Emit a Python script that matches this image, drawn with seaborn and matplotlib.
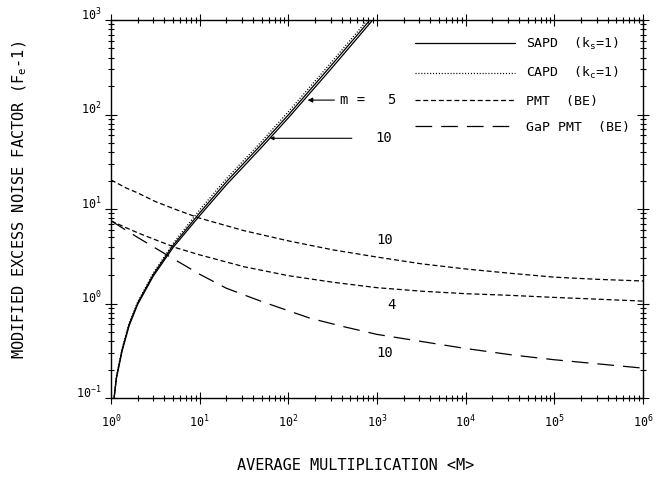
import matplotlib
matplotlib.use("Agg")
import numpy as np
import pandas as pd
import seaborn as sns
import matplotlib.pyplot as plt
from matplotlib.lines import Line2D

# ---------------- data ----------------
M_apd = [1.07, 1.15, 1.33, 1.6, 2.0, 3.0, 5.0, 10, 20, 50, 100, 300, 1000]
F_sapd_m5 = [0.09, 0.16, 0.31, 0.58, 0.98, 1.95, 3.9, 8.5, 18, 45, 92, 300, 1130]
F_sapd_m10 = [0.09, 0.165, 0.32, 0.60, 1.01, 2.03, 4.1, 9.1, 19.4, 48.5, 99, 325, 1220]
F_capd = [0.09, 0.17, 0.33, 0.62, 1.04, 2.1, 4.3, 9.8, 20.9, 52, 107, 350, 1310]

M_pmt = [1, 1.5, 2, 3.16, 5.5, 10, 31.6, 100, 316, 1000, 3162, 1e4, 3.16e4, 1e5, 3.16e5, 1e6]
F_pmt_m10 = [20.3, 16.6, 14.8, 12.0, 9.8, 8.0, 5.9, 4.6, 3.7, 3.1, 2.63, 2.32, 2.09, 1.9, 1.8, 1.73]
F_pmt_m4 = [7.5, 6.3, 5.6, 4.73, 3.87, 3.27, 2.45, 1.97, 1.68, 1.47, 1.35, 1.27, 1.22, 1.16, 1.11, 1.06]

M_gap = [1, 2, 4.6, 10, 20, 50, 175, 400, 1000, 1e4, 3.4e4, 1e5, 1e6]
F_gap_m10 = [7.5, 5.0, 3.13, 2.04, 1.45, 1.05, 0.70, 0.575, 0.471, 0.334, 0.285, 0.254, 0.207]

legend_labels = ["SAPD  (k$_s$=1)", "CAPD  (k$_c$=1)", "PMT  (BE)", "GaP PMT  (BE)"]
x_ticks = [1e0, 1e1, 1e2, 1e3, 1e4, 1e5, 1e6]
x_exps = [0, 1, 2, 3, 4, 5, 6]
y_ticks = [1e-1, 1e0, 1e1, 1e2, 1e3]
y_exps = [-1, 0, 1, 2, 3]

# ---------------- style ----------------
sns.set_style("ticks")
plt.rcParams["font.family"] = ["DejaVu Sans Mono", "DejaVu Sans"]
plt.rcParams["mathtext.fontset"] = "custom"
plt.rcParams["mathtext.rm"] = "DejaVu Sans Mono"
plt.rcParams["mathtext.it"] = "DejaVu Sans Mono"
plt.rcParams["mathtext.default"] = "regular"
plt.rcParams["lines.scale_dashes"] = False
plt.rcParams["axes.edgecolor"] = "black"
plt.rcParams["axes.linewidth"] = 1.0
plt.rcParams["text.color"] = "black"
plt.rcParams["xtick.color"] = "black"
plt.rcParams["ytick.color"] = "black"
plt.rcParams["xtick.labelcolor"] = "black"
plt.rcParams["ytick.labelcolor"] = "black"

W, H = 665, 478
fig = plt.figure(figsize=(W / 100, H / 100), dpi=100)
fig.patch.set_facecolor("white")
L, R, T, B = 111, 643, 20, 398
ax = fig.add_axes([L / W, 1 - B / H, (R - L) / W, (B - T) / H])

lw = 0.9
ls_solid = "-"
ls_dot = (0, (0.8, 1.3))
ls_short = (0, (3.6, 2.0))
ls_long = (0, (12, 6.5))

sns.lineplot(x=M_apd, y=F_sapd_m5, ax=ax, color="black", lw=lw, linestyle=ls_solid, sort=False, estimator=None)
sns.lineplot(x=M_apd, y=F_sapd_m10, ax=ax, color="black", lw=lw, linestyle=ls_solid, sort=False, estimator=None)
sns.lineplot(x=M_apd, y=F_capd, ax=ax, color="black", lw=lw, linestyle=ls_dot, sort=False, estimator=None)
sns.lineplot(x=M_pmt, y=F_pmt_m10, ax=ax, color="black", lw=lw, linestyle=ls_short, sort=False, estimator=None)
sns.lineplot(x=M_pmt, y=F_pmt_m4, ax=ax, color="black", lw=lw, linestyle=ls_short, sort=False, estimator=None)
sns.lineplot(x=M_gap, y=F_gap_m10, ax=ax, color="black", lw=lw, linestyle=ls_long, sort=False, estimator=None)

ax.set_xscale("log")
ax.set_yscale("log")
ax.set_xlim(1, 1e6)
ax.set_ylim(0.1, 1000)
for s in ax.spines.values():
    s.set_visible(True)
    s.set_color("black")

ax.set_xticks(x_ticks)
ax.set_xticklabels([f"$10^{{{e}}}$" for e in x_exps])
ax.set_yticks(y_ticks)
ax.set_yticklabels([f"$10^{{{e}}}$" for e in y_exps], va="baseline")
ax.xaxis.set_minor_locator(matplotlib.ticker.LogLocator(base=10, subs=np.arange(2, 10), numticks=20))
ax.yaxis.set_minor_locator(matplotlib.ticker.LogLocator(base=10, subs=np.arange(2, 10), numticks=20))
ax.xaxis.set_minor_formatter(matplotlib.ticker.NullFormatter())
ax.yaxis.set_minor_formatter(matplotlib.ticker.NullFormatter())
ax.tick_params(which="both", direction="inout", top=True, right=True, color="black", width=0.8,
               labelcolor="black")
ax.tick_params(which="major", length=8, labelsize=8.5)
ax.tick_params(axis="x", which="major", pad=7)
ax.tick_params(axis="y", which="major", pad=3)
ax.tick_params(which="minor", length=4.5)
ax.set_xlabel("")
ax.set_ylabel("")

# legend
handles = [
    Line2D([], [], color="black", lw=lw, linestyle=ls_solid),
    Line2D([], [], color="black", lw=lw, linestyle=ls_dot),
    Line2D([], [], color="black", lw=lw, linestyle=ls_short),
    Line2D([], [], color="black", lw=lw, linestyle=ls_long),
]
leg = ax.legend(handles, legend_labels, loc="upper left", bbox_to_anchor=(415 / W, 1 - 36 / H),
                bbox_transform=fig.transFigure, frameon=False, fontsize=9.5, handlelength=7.6,
                handletextpad=0.8, labelspacing=1.0, borderpad=0, borderaxespad=0)
for t in leg.get_texts():
    t.set_color("black")

# annotations
fs = 10
ax.annotate("", xy=(165, 142), xytext=(330, 142),
            arrowprops=dict(arrowstyle="-|>", color="black", lw=0.8, shrinkA=0, shrinkB=0, mutation_scale=7))
ax.text(380, 142, "m =", fontsize=fs, ha="left", va="center")
ax.text(1460, 142, "5", fontsize=fs, ha="center", va="center")
ax.annotate("", xy=(62, 56), xytext=(520, 56),
            arrowprops=dict(arrowstyle="-|>", color="black", lw=0.8, shrinkA=0, shrinkB=0, mutation_scale=5))
ax.text(1180, 56, "10", fontsize=fs, ha="center", va="center")
ax.text(1230, 4.7, "10", fontsize=fs, ha="center", va="center")
ax.text(1460, 0.96, "4", fontsize=fs, ha="center", va="center")
ax.text(1230, 0.30, "10", fontsize=fs, ha="center", va="center")

fig.text(20 / W, 1 - 200 / H, "MODIFIED EXCESS NOISE FACTOR (F$_e$-1)", rotation=90,
         ha="center", va="center", fontsize=11, color="black")
fig.text(356 / W, 1 - 466 / H, "AVERAGE MULTIPLICATION <M>", ha="center", va="center",
         fontsize=11, color="black")

fig.savefig("out.png", dpi=100, facecolor="white")
